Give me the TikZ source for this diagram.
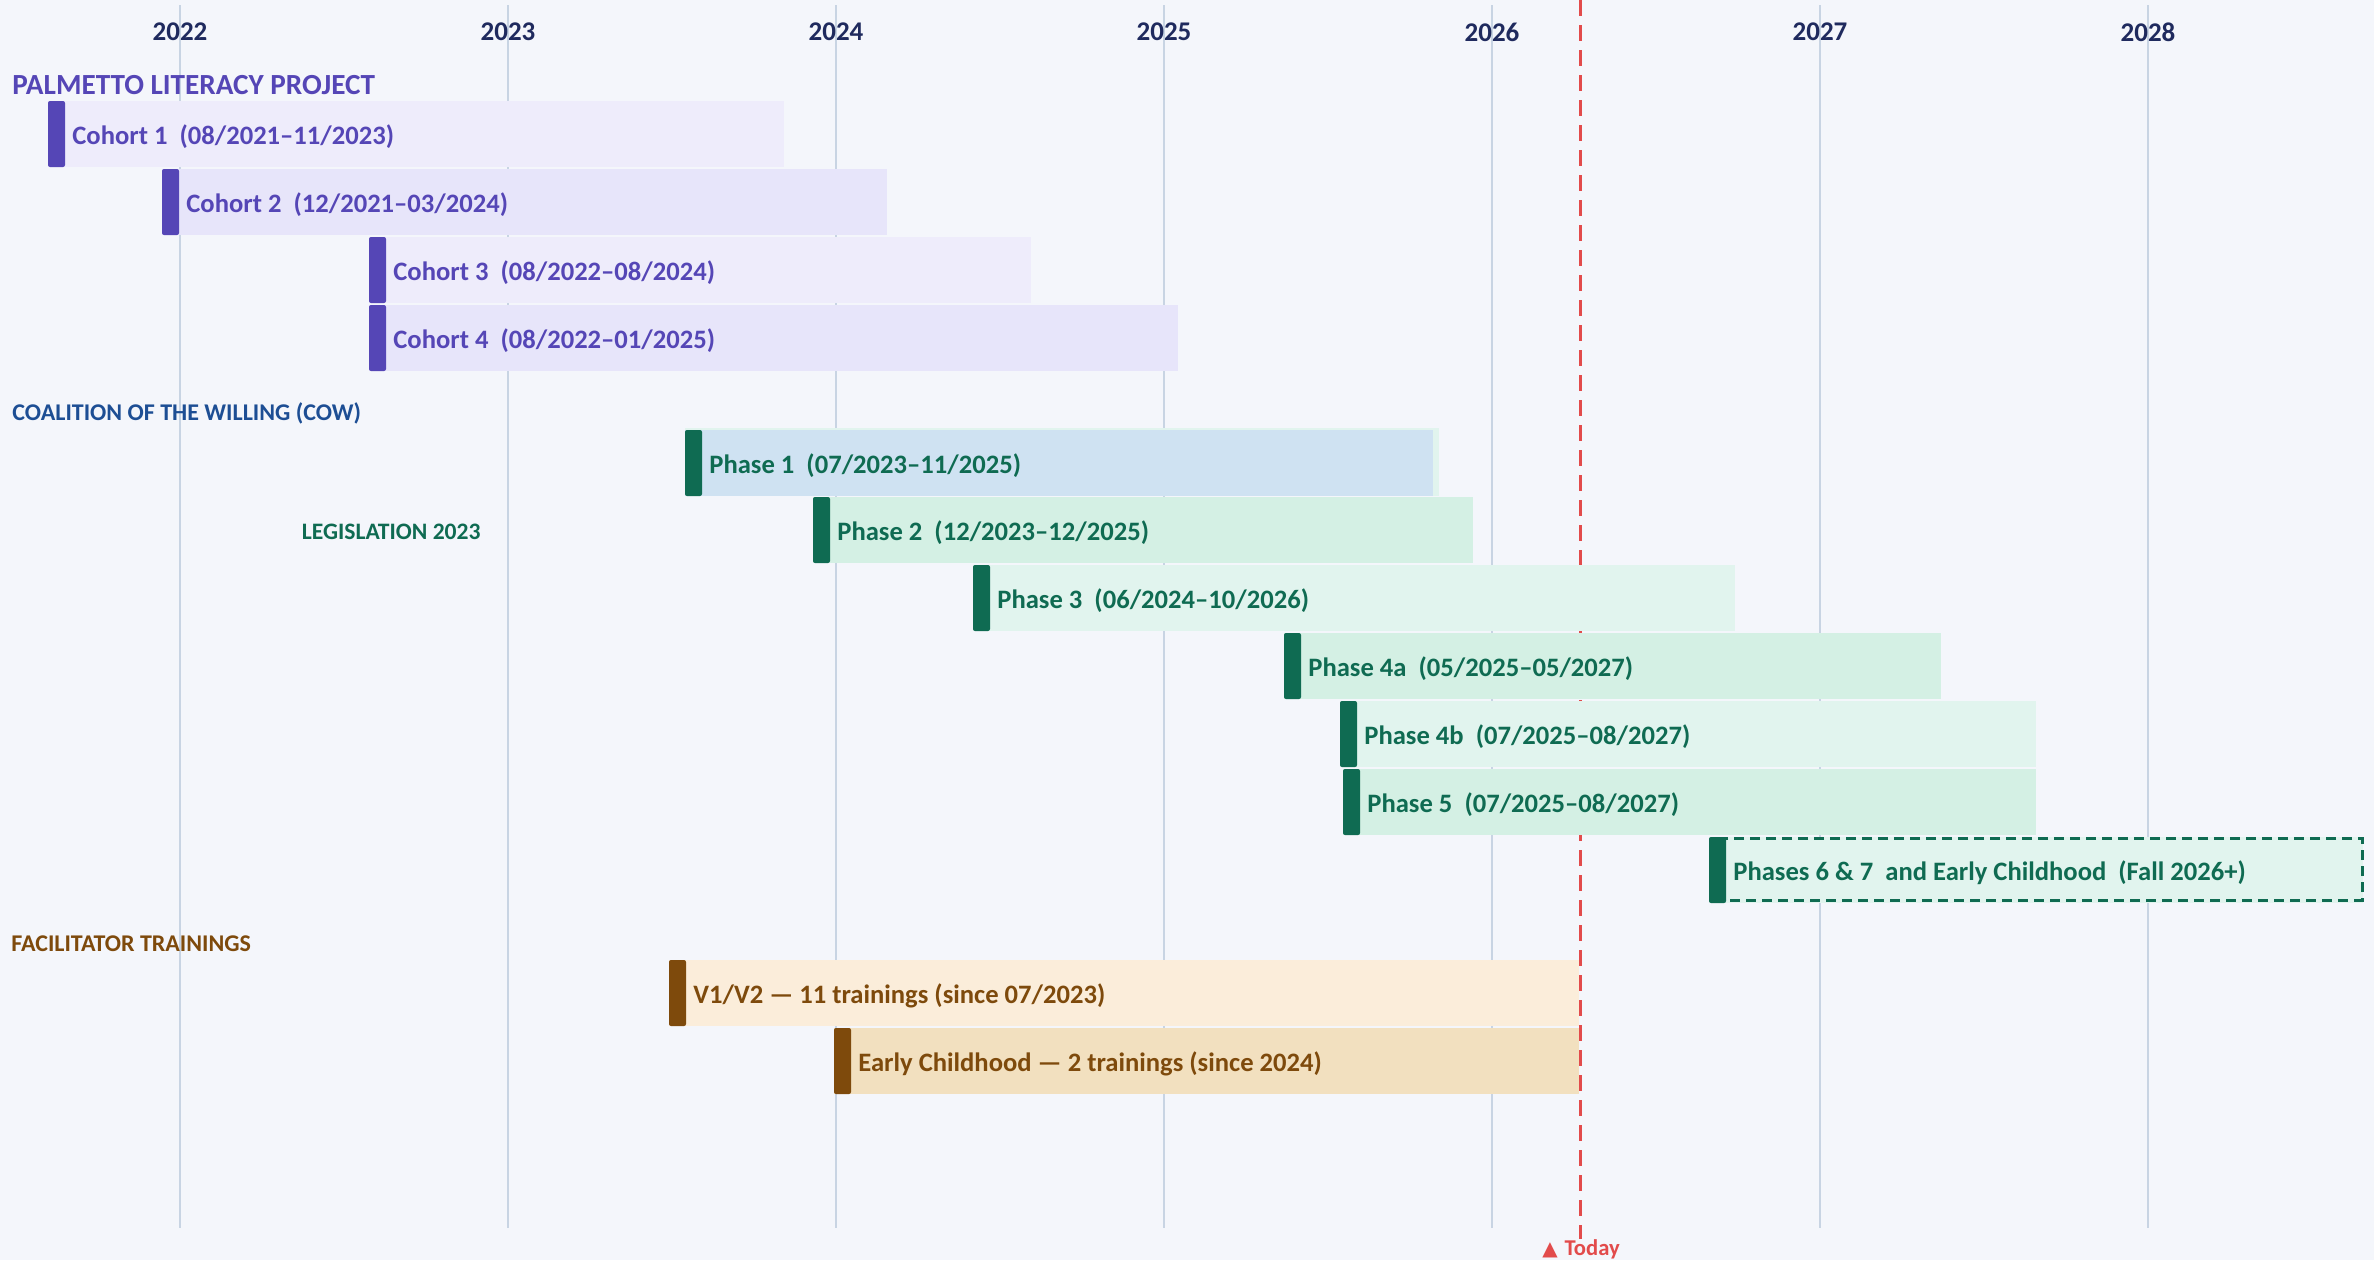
\documentclass[tikz,border=0pt]{standalone}
\usepackage{fontspec}
\setmainfont{Carlito}
\newfontfamily\symfont{DejaVu Sans}
\usepackage{xcolor}
\usetikzlibrary{positioning}

\definecolor{bgcol}{HTML}{F4F6FB}
\definecolor{gridcol}{HTML}{C8D4E3}
\definecolor{yearcol}{HTML}{1F2A5E}
\definecolor{plp}{HTML}{5546B6}
\definecolor{plpA}{HTML}{EEECFB}
\definecolor{plpB}{HTML}{E7E5FA}
\definecolor{cow}{HTML}{1D4E94}
\definecolor{grn}{HTML}{0F6B52}
\definecolor{grnA}{HTML}{D4F0E4}
\definecolor{grnB}{HTML}{E1F4EE}
\definecolor{blu}{HTML}{CFE2F2}
\definecolor{brn}{HTML}{7E4A0C}
\definecolor{brnA}{HTML}{FBEDDA}
\definecolor{brnB}{HTML}{F2E0BF}
\definecolor{todaycol}{HTML}{E24B4B}

\tikzset{
    barlabel/.style={anchor=west, inner sep=0pt, font=\bfseries\fontsize{13.3}{16}\selectfont},
    header/.style={anchor=west, inner sep=0pt, font=\bfseries\fontsize{12}{14}\selectfont},
    yearlabel/.style={inner sep=0pt, text=yearcol, font=\bfseries\fontsize{13.5}{16}\selectfont},
    accent/.style={rounded corners=1pt}
}

\begin{document}
\begin{tikzpicture}[x=0.5pt, y=-0.5pt]
    \useasboundingbox (0,0) rectangle (2374,1260);
    \fill[bgcol] (0,0) rectangle (2374,1260);
    % year grid
    \foreach \yr [count=\i from 0] in {2022,...,2028} {
        \draw[gridcol, line width=1pt] (180+328*\i,5) -- (180+328*\i,1228);
        \node[yearlabel] (y\yr) at (180+328*\i,32) {\yr};
    }
    % today marker
    \node[inner sep=0pt, text=todaycol, font=\bfseries\fontsize{11.3}{13}\selectfont] (today) at (1581,1249)
        {{\symfont\fontsize{10}{12}\selectfont ▲}\hspace{3.5pt}Today};
    \coordinate (todaytop) at (1580,0);
    \draw[todaycol, line width=1.5pt, dash pattern=on 8pt off 4.5pt] (todaytop) -- (todaytop |- today.north);

    % section headers
    \node[header, text=plp, font=\bfseries\fontsize{14.6}{17}\selectfont] (hplp) at (12,85) {PALMETTO LITERACY PROJECT};
    \node[header, text=cow] (hcow) at (12,413) {COALITION OF THE WILLING (COW)};
    \node[header, text=grn, anchor=east, font=\bfseries\fontsize{11.8}{14}\selectfont] (hleg) at (481,532) {LEGISLATION 2023};
    \node[header, text=brn] (hfac) at (11,944) {FACILITATOR TRAININGS};

    % mint frame under phase 1
    \fill[grnB] (685,428) rectangle (1439,496);

    % bars: name/start/end/top/fill/accent/label
    \foreach \nm/\xa/\xb/\ty/\bg/\ac/\txt in {
        c1/48/784/101/plpA/plp/{Cohort 1~~(08/2021–11/2023)},
        c2/162/887/169/plpB/plp/{Cohort 2~~(12/2021–03/2024)},
        c3/369/1031/237/plpA/plp/{Cohort 3~~(08/2022–08/2024)},
        c4/369/1178/305/plpB/plp/{Cohort 4~~(08/2022–01/2025)},
        p1/685/1433/430/blu/grn/{Phase 1~~(07/2023–11/2025)},
        p2/813/1473/497/grnA/grn/{Phase 2~~(12/2023–12/2025)},
        p3/973/1735/565/grnB/grn/{Phase 3~~(06/2024–10/2026)},
        p4a/1284/1941/633/grnA/grn/{Phase 4a~~(05/2025–05/2027)},
        p4b/1340/2036/701/grnB/grn/{Phase 4b~~(07/2025–08/2027)},
        p5/1343/2036/769/grnA/grn/{Phase 5~~(07/2025–08/2027)},
        p67/1709/2363/837/grnB/grn/{Phases 6 \& 7~~and Early Childhood~~(Fall 2026+)},
        v12/669/1579/960/brnA/brn/{V1/V2 — 11 trainings (since 07/2023)},
        ec/834/1579/1028/brnB/brn/{Early Childhood — 2 trainings (since 2024)}
    } {
        \fill[\bg] (\xa,\ty) rectangle (\xb,\ty+66);
        \fill[\ac, accent] (\xa,\ty) rectangle (\xa+17,\ty+66);
        \node[barlabel, text=\ac] (\nm) at (\xa+24,\ty+36) {\txt};
    }

    % planned phases, dashed outline
    \draw[grn, line width=1.5pt, dash pattern=on 5pt off 3pt] (1712,838) rectangle (2362,900);
\end{tikzpicture}
\end{document}
